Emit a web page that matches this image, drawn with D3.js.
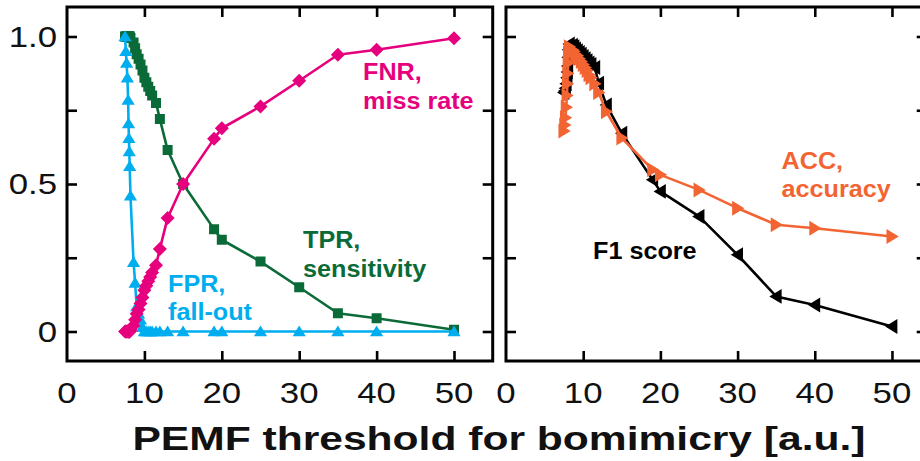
<!DOCTYPE html>
<html>
<head>
<meta charset="utf-8">
<script src="https://cdn.jsdelivr.net/npm/d3@7"></script>
<style>
  body { margin: 0; background: #fff; }
  text { font-family: "Liberation Sans", Arial, Helvetica, sans-serif; }
</style>
</head>
<body>
<svg id="chart" width="920" height="461"></svg>
<script>
// PEMF threshold values (a.u.) at which each rate was evaluated
const thresholds = [7.5, 7.6, 7.7, 7.8, 7.9, 7.95, 8.0, 8.05, 8.1, 8.2,
                    8.6, 8.8, 9.0, 9.25, 9.5, 9.75, 10.0, 10.25, 10.5, 10.75,
                    11.0, 11.5, 12.0, 13.0, 15.0,
                    19.0, 20.0, 25.0, 30.0, 35.0, 40.0, 50.0];

// true positive rate (sensitivity)
const tpr = [1.0, 1.0, 1.0, 1.0, 1.0, 1.0, 1.0, 1.0, 1.0, 0.995,
             0.98, 0.96, 0.94, 0.925, 0.905, 0.885, 0.86, 0.845, 0.83, 0.815,
             0.80, 0.775, 0.72, 0.615, 0.50,
             0.347, 0.311, 0.237, 0.15, 0.062, 0.045, 0.006];

// false negative rate (miss rate)
const fnr = [0, 0, 0, 0, 0, 0, 0, 0, 0, 0.005,
             0.02, 0.04, 0.06, 0.075, 0.095, 0.115, 0.14, 0.155, 0.17, 0.185,
             0.20, 0.225, 0.28, 0.385, 0.50,
             0.653, 0.689, 0.763, 0.85, 0.938, 0.955, 0.994];

// false positive rate (fall-out)
const fpr = [1.0, 0.95, 0.91, 0.86, 0.785, 0.705, 0.655, 0.61, 0.56, 0.46,
             0.235, 0.165, 0.085, 0.06, 0.04, 0.015, 0, 0, 0, 0,
             0, 0, 0, 0, 0,
             0, 0, 0, 0, 0, 0, 0];

// accuracy
const acc = [0.68, 0.70, 0.725, 0.76, 0.80, 0.84, 0.875, 0.91, 0.945, 0.965,
             0.955, 0.95, 0.94, 0.935, 0.925, 0.915, 0.905, 0.895, 0.885, 0.87,
             0.86, 0.84, 0.81, 0.745, 0.656,
             0.548, 0.531, 0.48, 0.418, 0.362, 0.35, 0.322];

// F1 score
const f1 = [0.81, 0.815, 0.825, 0.84, 0.86, 0.88, 0.90, 0.93, 0.955, 0.975,
            0.97, 0.965, 0.958, 0.952, 0.946, 0.94, 0.932, 0.925, 0.918, 0.91,
            0.905, 0.895, 0.842, 0.768, 0.672,
            0.514, 0.475, 0.39, 0.26, 0.119, 0.09, 0.017];

const xTickValues = [0, 10, 20, 30, 40, 50];
const yTickValues = [0, 0.25, 0.5, 0.75, 1.0];
const yTickLabels = ["0", "", "0.5", "", "1.0"];
const axisTitle = "PEMF threshold for bomimicry [a.u.]";

const svg = d3.select("#chart");

// marker shapes
const markers = {
  square: s => `M${-s},${-s}H${s}V${s}H${-s}Z`,
  diamond: s => `M0,${-s}L${s},0L0,${s}L${-s},0Z`,
  triUp: s => `M0,${-s}L${s * 1.1},${s * 0.8}L${-s * 1.1},${s * 0.8}Z`,
  triRight: s => `M${s},0L${-s * 0.8},${-s * 1.1}L${-s * 0.8},${s * 1.1}Z`,
  triLeft: s => `M${-s},0L${s * 0.8},${-s * 1.1}L${s * 0.8},${s * 1.1}Z`
};

function panel(opts) {
  const x = d3.scaleLinear().domain(opts.xDomain).range(opts.xRange);
  const y = d3.scaleLinear().domain([-0.1, 1.1]).range([361, 7]);
  const g = svg.append("g");

  // clip marks to the plotting frame
  const clipId = "clip" + opts.id;
  svg.append("clipPath").attr("id", clipId)
    .append("rect")
    .attr("x", x.range()[0]).attr("y", 7)
    .attr("width", x.range()[1] - x.range()[0]).attr("height", 354);

  const tick = 10;
  const inner = [10, 20, 30, 40, 50];
  const axes = [
    [d3.axisTop(x).tickValues(inner), `translate(0,${y.range()[1]})`],
    [d3.axisBottom(x).tickValues(inner), `translate(0,${y.range()[0]})`],
    [d3.axisLeft(y).tickValues(yTickValues), `translate(${x.range()[0]},0)`],
    [d3.axisRight(y).tickValues(yTickValues), `translate(${x.range()[1]},0)`]
  ];
  axes.forEach(([ax, tr]) => {
    const a = g.append("g").attr("transform", tr)
      .call(ax.tickSizeInner(-tick).tickSizeOuter(0).tickFormat(""));
    a.select(".domain").remove();
    a.selectAll(".tick line").attr("stroke", "#000").attr("stroke-width", 2.6);
  });

  // frame
  g.append("rect")
    .attr("x", x.range()[0]).attr("y", y.range()[1])
    .attr("width", x.range()[1] - x.range()[0])
    .attr("height", y.range()[0] - y.range()[1])
    .attr("fill", "none").attr("stroke", "#000").attr("stroke-width", 3);

  // x tick labels
  g.selectAll("text.xl").data(xTickValues).join("text")
    .attr("class", "xl")
    .attr("transform", d => `translate(${x(d)},403) scale(1.2,1)`)
    .attr("text-anchor", "middle")
    .attr("font-size", 29)
    .attr("fill", "#111")
    .text(d => d);

  if (opts.yLabels) {
    g.selectAll("text.yl").data(yTickValues).join("text")
      .attr("class", "yl")
      .attr("transform", d => `translate(57,${y(d) + 10.3}) scale(1.2,1)`)
      .attr("text-anchor", "end")
      .attr("font-size", 29)
      .attr("fill", "#111")
      .text((d, i) => yTickLabels[i]);
  }

  const marks = g.append("g").attr("clip-path", `url(#${clipId})`);
  opts.series.forEach(s => {
    const pts = thresholds.map((t, i) => [t, s.values[i]]);
    const line = d3.line().x(d => x(d[0])).y(d => y(d[1]));
    const sg = marks.append("g");
    sg.append("path").datum(pts)
      .attr("d", line)
      .attr("fill", "none")
      .attr("stroke", s.color)
      .attr("stroke-width", 2.6)
      .attr("stroke-linejoin", "round");
    sg.selectAll("path.m").data(pts).join("path")
      .attr("class", "m")
      .attr("transform", d => `translate(${x(d[0])},${y(d[1])})`)
      .attr("d", markers[s.marker](s.size))
      .attr("fill", s.color);
  });

  (opts.labels || []).forEach(l => {
    l.lines.forEach((t, i) => {
      g.append("text")
        .attr("transform", `translate(${l.x},${l.y + i * 28.5}) scale(1.05,1)`)
        .attr("font-size", 24)
        .attr("font-weight", "bold")
        .attr("fill", l.color)
        .text(t);
    });
  });
}

const green = "#0b6b38", magenta = "#e6007e", cyan = "#00aeef",
      orange = "#f26532", black = "#000";

panel({
  id: "L",
  xDomain: [0, 55], xRange: [67, 492.7],
  yLabels: true,
  series: [
    { values: tpr, color: green, marker: "square", size: 5 },
    { values: fpr, color: cyan, marker: "triUp", size: 6 },
    { values: fnr, color: magenta, marker: "diamond", size: 7 }
  ],
  labels: [
    { x: 363, y: 80, lines: ["FNR,", "miss rate"], color: magenta },
    { x: 303, y: 248, lines: ["TPR,", "sensitivity"], color: green },
    { x: 168, y: 291.5, lines: ["FPR,", "fall-out"], color: cyan }
  ]
});

panel({
  id: "R",
  xDomain: [0, 54.5], xRange: [506, 926.7],
  yLabels: false,
  series: [
    { values: f1, color: black, marker: "triLeft", size: 6.8 },
    { values: acc, color: orange, marker: "triRight", size: 6.8 }
  ],
  labels: [
    { x: 781.5, y: 168.5, lines: ["ACC,", "accuracy"], color: orange },
    { x: 593, y: 258.5, lines: ["F1 score"], color: black }
  ]
});

svg.append("text")
  .attr("transform", "translate(499,450) scale(1.29,1)")
  .attr("text-anchor", "middle")
  .attr("font-size", 33)
  .attr("font-weight", "bold")
  .attr("fill", "#111")
  .text(axisTitle);
</script>
</body>
</html>
